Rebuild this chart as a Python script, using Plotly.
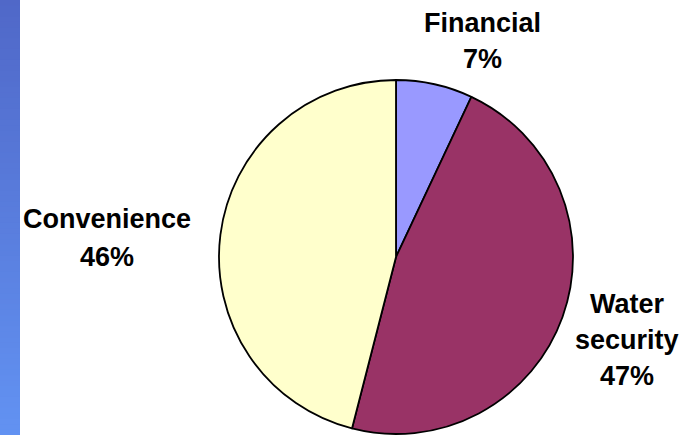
import plotly.graph_objects as go

categories = ["Financial", "Water security", "Convenience"]
values = [7, 47, 46]
label_lines = [["Financial"], ["Water", "security"], ["Convenience"]]
colors = ["#9999FF", "#993366", "#FFFFCC"]

W, H = 685, 435

fig = go.Figure()
fig.add_trace(go.Pie(
    labels=categories, values=values, sort=False, direction="clockwise",
    rotation=0, textinfo="none", hoverinfo="label+percent",
    marker=dict(colors=colors, line=dict(color="black", width=1.8)),
    domain=dict(x=[219 / W, 573 / W], y=[1 / H, 355 / H]),
    showlegend=False,
))

# left gradient strip
n = 80
top = (80, 104, 200)
bot = (98, 146, 242)
shapes = []
for i in range(n):
    t = i / (n - 1)
    c = tuple(round(top[k] + (bot[k] - top[k]) * t) for k in range(3))
    shapes.append(dict(type="rect", xref="paper", yref="paper",
                       x0=0, x1=20 / W, y0=max(0, 1 - (i + 1) / n - 0.004),
                       y1=1 - i / n,
                       fillcolor=f"rgb{c}", line=dict(width=0), layer="below"))

# label positions (pixel centres of first line) and line spacing
label_pos = [(482, 23), (627, 304), (107, 219)]
spacing = [36, 36, 38]
annotations = []
for cat_lines, v, (px, py), sp in zip(label_lines, values, label_pos, spacing):
    lines = cat_lines + [f"{v}%"]
    for j, line in enumerate(lines):
        y = py + j * sp
        annotations.append(dict(
            x=px / W, y=1 - y / H, xref="paper", yref="paper",
            text=f"<b>{line}</b>", showarrow=False,
            xanchor="center", yanchor="middle",
            font=dict(family="Arial, Liberation Sans, sans-serif", size=27, color="black"),
        ))

fig.update_layout(
    width=W, height=H, margin=dict(l=0, r=0, t=0, b=0),
    paper_bgcolor="white", plot_bgcolor="white",
    shapes=shapes, annotations=annotations,
)

fig.write_html("out.html", config={"displayModeBar": False},
               post_script="document.body.style.margin='0px';")
